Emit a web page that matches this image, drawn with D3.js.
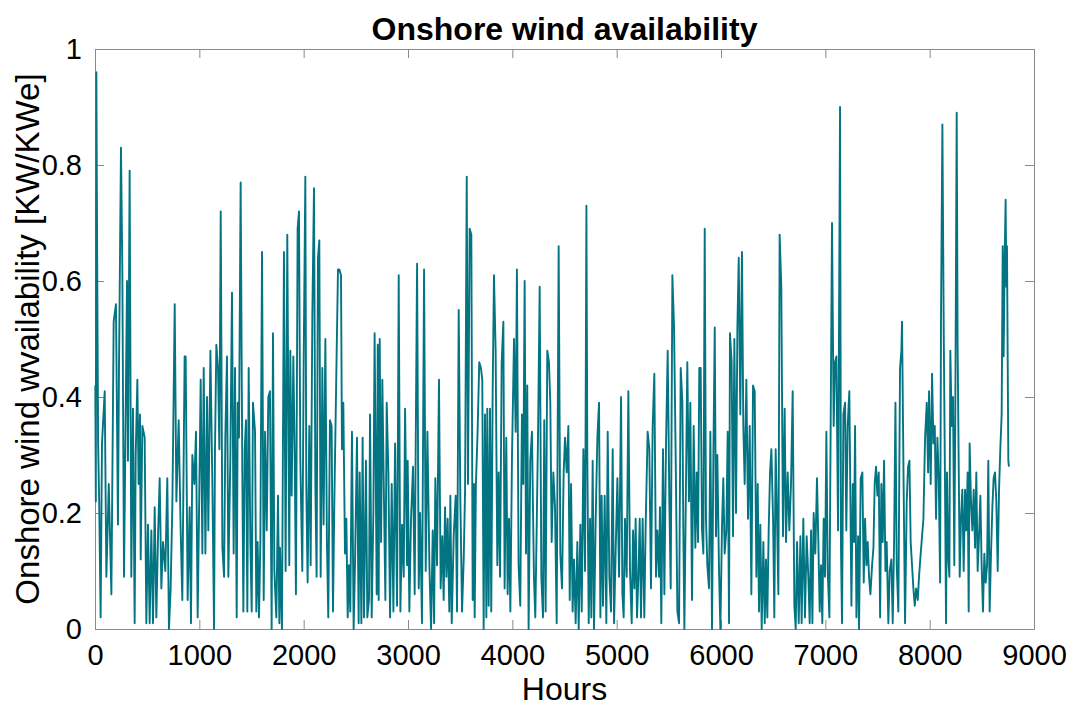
<!DOCTYPE html>
<html>
<head>
<meta charset="utf-8">
<script src="https://cdn.jsdelivr.net/npm/d3@7"></script>
<style>
  body { margin: 0; background: #fff; }
  text { font-family: "Liberation Sans", Arial, Helvetica, sans-serif; fill: #000; }
</style>
</head>
<body>
<div id="chart"></div>
<script>
// Hourly onshore wind availability (peaks and troughs)
var hours = [
  3,8,13,22,30,40,54,67,93,109,
  132,157,179,201,220,230,249,262,278,307,
  316,332,348,364,380,390,406,418,431,438,
  454,476,492,508,524,540,556,572,588,604,
  620,636,652,674,693,709,725,741,764,780,
  802,821,837,859,
  869,888,907,920,933,952,968,984,1000,1013,
  1029,1042,1058,1074,1086,1106,1125,1141,1150,1163,
  1179,1192,1205,1221,1237,1249,1265,1278,1297,1313,
  1329,1342,1358,1368,1380,1396,1412,1422,1435,1447,
  1460,1473,1489,1502,1514,1534,1546,1559,1572,1585,
  1601,1617,1630,1646,1661,1677,1693,1706,1719,1738,
  1754,1767,
  1773,1792,1811,1827,1843,1862,1872,1885,1901,1914,
  1926,1942,1955,1968,1987,2000,2016,2025,2038,2054,
  2067,2083,2099,2112,2124,2137,2150,2163,2179,2191,
  2208,2223,2236,2252,2268,2281,2294,2313,2329,2342,
  2358,2367,2380,2396,2409,2422,2434,2447,2463,2479,
  2492,2511,2527,2537,2553,2565,2578,2597,2610,2626,
  2636,2652,2668,2680,
  2700,2710,2719,2729,2742,2754,2770,2783,2796,2812,
  2828,2844,2860,2876,2895,2911,2927,2943,2959,2972,
  2991,2997,3013,3029,3048,3064,3074,3087,3103,3116,
  3134,3154,3170,3186,3205,3221,3237,3250,3262,3278,
  3297,3313,3329,3342,3355,3368,3380,3396,3406,3419,
  3438,3457,3470,3486,3502,3518,3534,3547,3563,3575,
  3591,
  3607,3620,3632,3639,3651,3667,3683,3699,3712,3725,
  3738,3751,3760,3773,3786,3798,3811,3824,3840,3856,
  3869,3882,3898,3914,3926,3942,3955,3968,3981,3997,
  4016,4032,4044,4060,4076,4092,4105,4118,4131,4143,
  4156,4172,4188,4207,4220,4233,4246,4262,4278,4294,
  4306,4319,4335,4351,4364,4377,4393,4409,4425,4444,
  4460,4476,4492,
  4505,4521,4537,4550,4563,4578,4591,4607,4623,4636,
  4652,4665,4681,4697,4710,4719,4732,4745,4757,4770,
  4783,4799,4815,4831,4844,4856,4869,4885,4901,4914,
  4930,4946,4962,4975,4991,5007,5023,5042,5055,5067,
  5080,5096,5112,5128,5144,5157,5170,5182,5195,5208,
  5221,5233,5249,5265,5278,5297,5313,5329,5345,5361,
  5377,5390,5406,
  5415,5428,5444,5457,5473,5489,5505,5518,5534,5550,
  5566,5582,5598,5614,5630,5639,5649,5665,5677,5693,
  5706,5722,5738,5754,5767,5780,5792,5805,5818,5831,
  5844,5856,5869,5885,5898,5914,5927,5940,5952,5965,
  5981,5994,6010,6022,6035,6051,6064,6077,6086,6102,
  6115,6128,6144,6157,6170,6185,6201,6214,6227,6243,
  6259,6275,6291,6307,6323,
  6339,6352,6364,6377,6390,6406,6419,6431,6444,6457,
  6470,6483,6499,6511,6524,6537,6550,6562,6578,6594,
  6610,6623,6639,6655,6671,6687,6703,6716,6729,6745,
  6761,6773,6789,6805,6821,6837,6850,6863,6876,6888,
  6904,6920,6933,6946,6959,6971,6984,6997,7010,7023,
  7039,7051,7064,7080,7093,7106,7122,7141,7150,7160,
  7173,7189,7201,7214,7230,
  7250,7263,7275,7285,7298,7314,7323,7339,7355,7368,
  7381,7394,7406,7419,7432,7448,7461,7473,7486,7499,
  7512,7525,7537,7550,7563,7576,7588,7604,7617,7633,
  7646,7659,7672,7684,7700,7716,7729,7735,7748,7764,
  7780,7793,7806,7818,7831,7844,7857,7870,7886,7898,
  7914,7927,7940,7956,7972,7985,7994,8010,8023,8036,
  8049,8061,8074,8087,8100,8109,8122,8135,
  8147,8157,8166,8179,8189,8198,8211,8224,8236,8246,
  8259,8268,8278,8288,8300,8313,8326,8339,8351,8364,
  8374,8383,8396,8409,8422,8435,8447,8460,8473,8486,
  8498,8511,8524,8537,8550,8562,8575,8588,8601,8613,
  8626,8639,8652,8665,8677,8690,8700,8709,8719,8728,
  8735,8741,8748,8754,8760
];

var availability = [
  .42,.22,.96,.60,.32,.22,.02,.32,.41,.09,
  .25,.06,.53,.56,.18,.45,.83,.62,.09,.60,
  .29,.79,.09,.38,.01,.30,.43,.25,.37,.12,
  .35,.33,.01,.18,.01,.17,.01,.21,.02,.16,
  .26,.07,.15,.10,.26,.00,.07,.21,.56,.22,
  .36,.17,.05,.47,
  .47,.05,.21,.01,.30,.25,.34,.02,.24,.43,
  .13,.45,.13,.40,.17,.48,.25,.00,.31,.49,
  .45,.31,.72,.14,.09,.33,.47,.09,.29,.58,
  .13,.45,.02,.39,.33,.77,.27,.03,.31,.36,
  .03,.45,.15,.03,.39,.34,.03,.15,.02,.15,
  .65,.05,.34,.17,.40,.41,.00,.51,.10,.02,
  .23,.01,
  .14,.00,.65,.10,.68,.11,.48,.23,.47,.30,
  .06,.69,.72,.29,.10,.46,.78,.25,.08,.35,
  .11,.54,.76,.25,.09,.64,.67,.09,.45,.18,
  .50,.15,.02,.36,.35,.03,.22,.44,.62,.62,
  .61,.31,.39,.13,.19,.02,.11,.03,.34,.00,
  .11,.33,.01,.27,.01,.33,.02,.29,.02,.05,
  .37,.02,.20,.51,
  .06,.49,.05,.50,.15,.43,.22,.05,.39,.27,
  .02,.25,.03,.32,.04,.61,.03,.18,.09,.38,
  .11,.29,.03,.19,.28,.06,.32,.63,.07,.20,
  .01,.62,.10,.34,.11,.00,.17,.01,.26,.11,
  .43,.07,.16,.05,.21,.09,.19,.03,.23,.01,
  .16,.23,.03,.55,.22,.03,.12,.24,.78,.25,
  .69,
  .68,.05,.25,.02,.25,.34,.46,.45,.43,.00,
  .37,.02,.38,.04,.38,.03,.40,.61,.48,.11,
  .27,.09,.46,.53,.07,.33,.06,.19,.03,.30,
  .50,.34,.62,.11,.04,.37,.25,.60,.13,.42,
  .00,.29,.34,.09,.02,.17,.33,.59,.09,.02,
  .36,.03,.48,.46,.39,.15,.27,.21,.01,.66,
  .13,.07,.27,
  .33,.27,.35,.05,.25,.03,.12,.01,.15,.00,
  .18,.03,.31,.10,.73,.29,.01,.19,.02,.29,
  .00,.19,.33,.39,.02,.23,.04,.23,.01,.34,
  .09,.03,.31,.01,.14,.26,.09,.40,.06,.02,
  .19,.09,.41,.10,.01,.17,.07,.19,.02,.09,
  .19,.02,.19,.02,.18,.34,.31,.07,.35,.44,
  .09,.17,.09,
  .21,.01,.31,.06,.32,.48,.22,.07,.61,.52,
  .29,.03,.01,.45,.39,.17,.00,.26,.46,.22,
  .39,.05,.35,.14,.27,.15,.45,.45,.17,.13,
  .69,.19,.11,.07,.34,.00,.30,.52,.16,.30,
  .10,.00,.18,.26,.13,.17,.34,.01,.51,.46,
  .16,.50,.20,.52,.64,.37,.65,.35,.25,.43,
  .19,.35,.06,.42,.41,
  .09,.25,.03,.18,.00,.15,.01,.12,.02,.17,
  .27,.31,.19,.02,.31,.19,.06,.68,.59,.16,
  .38,.15,.27,.17,.25,.41,.04,.00,.15,.01,
  .16,.01,.19,.02,.16,.09,.01,.17,.01,.20,
  .13,.26,.15,.03,.11,.01,.19,.09,.34,.10,
  .02,.35,.70,.35,.46,.47,.17,.90,.14,.01,
  .37,.39,.17,.35,.41,
  .04,.25,.15,.35,.02,.16,.00,.26,.27,.08,
  .19,.11,.15,.09,.06,.11,.14,.25,.28,.23,
  .27,.02,.25,.15,.29,.10,.15,.01,.10,.12,
  .01,.15,.39,.11,.03,.45,.48,.53,.29,.01,
  .22,.28,.29,.15,.11,.07,.04,.07,.05,.09,
  .13,.16,.19,.33,.39,.27,.41,.25,.44,.32,
  .35,.19,.33,.26,.08,.55,.87,.51,
  .25,.01,.27,.12,.09,.48,.35,.40,.11,.38,
  .89,.49,.29,.09,.19,.24,.10,.24,.17,.27,
  .03,.32,.22,.17,.24,.14,.27,.10,.16,.23,
  .11,.03,.13,.08,.11,.29,.03,.13,.21,.26,
  .27,.22,.10,.24,.31,.37,.66,.47,.64,.74,
  .59,.66,.46,.29,.28
];

var xTicks = [0, 1000, 2000, 3000, 4000, 5000, 6000, 7000, 8000, 9000];
var yTicks = [0, 0.2, 0.4, 0.6, 0.8, 1];

var margin = { top: 49, right: 39, bottom: 78, left: 95 },
  width = 1073 - margin.left - margin.right,
  height = 707 - margin.top - margin.bottom;

var svg = d3.select("#chart")
  .append("svg")
  .attr("width", 1073)
  .attr("height", 707)
  .style("background", "#fff");

var g = svg.append("g")
  .attr("transform", "translate(" + margin.left + "," + margin.top + ")");

var xScale = d3.scaleLinear().domain([0, 9000]).range([0, width]);
var yScale = d3.scaleLinear().domain([0, 1]).range([height, 0]);

var axisColor = "#8a8a8a";

// bottom axis with labels, ticks pointing inward
var xAxis = g.append("g")
  .attr("transform", "translate(0," + height + ")")
  .call(d3.axisBottom(xScale).tickValues(xTicks).tickSize(-9).tickSizeOuter(0)
    .tickPadding(15).tickFormat(d3.format("d")));

var yAxis = g.append("g")
  .call(d3.axisLeft(yScale).tickValues(yTicks).tickSize(-9).tickSizeOuter(0)
    .tickPadding(13).tickFormat(function(d) { return String(d); }));

// top and right: ticks only (box on)
var xTop = g.append("g")
  .call(d3.axisTop(xScale).tickValues(xTicks).tickSize(-9).tickSizeOuter(0).tickFormat(""));

var yRight = g.append("g")
  .attr("transform", "translate(" + width + ",0)")
  .call(d3.axisRight(yScale).tickValues(yTicks).tickSize(-9).tickSizeOuter(0).tickFormat(""));

[xAxis, yAxis, xTop, yRight].forEach(function(a) {
  a.selectAll(".domain").attr("stroke", axisColor).attr("stroke-width", 1);
  a.selectAll(".tick line").attr("stroke", axisColor).attr("stroke-width", 1);
  a.selectAll(".tick text")
    .style("font-family", "'Liberation Sans', Arial, Helvetica, sans-serif")
    .style("font-size", "29px")
    .attr("fill", "#000");
});

// the series
var line = d3.line()
  .x(function(d) { return xScale(d[0]); })
  .y(function(d) { return yScale(d[1]); });

g.append("path")
  .datum(d3.zip(hours, availability))
  .attr("fill", "none")
  .attr("stroke", "#037582")
  .attr("stroke-width", 1.9)
  .attr("stroke-linejoin", "round")
  .attr("d", line);

// title
svg.append("text")
  .attr("x", margin.left + width / 2)
  .attr("y", 40)
  .attr("text-anchor", "middle")
  .style("font-size", "32px")
  .style("font-weight", "bold")
  .text("Onshore wind availability");

// x label
svg.append("text")
  .attr("x", margin.left + width / 2)
  .attr("y", 700)
  .attr("text-anchor", "middle")
  .style("font-size", "32px")
  .text("Hours");

// y label
svg.append("text")
  .attr("transform", "translate(39," + (margin.top + height / 2) + ") rotate(-90)")
  .attr("text-anchor", "middle")
  .style("font-size", "33px")
  .text("Onshore wind wvailability [KW/KWe]");
</script>
</body>
</html>
